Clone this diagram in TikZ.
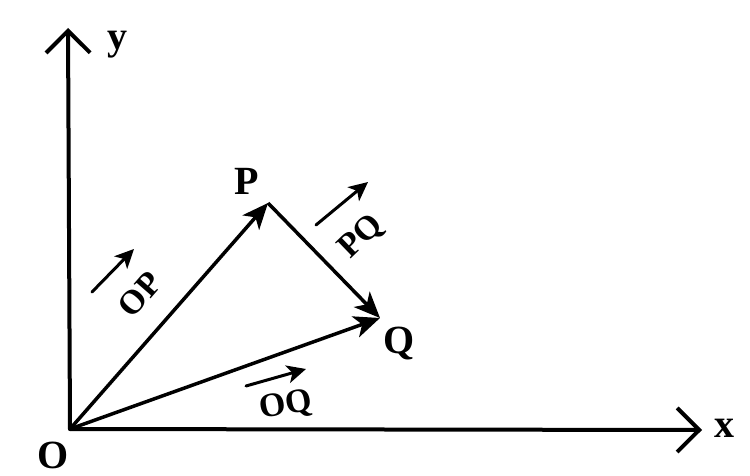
\documentclass[tikz,border=0pt]{standalone}
\usepackage{fontspec}
\setmainfont{Liberation Serif}
\usetikzlibrary{arrows.meta}
\begin{document}
\begin{tikzpicture}[x=1pt,y=-1pt,
 axis/.style={line width=4pt, line cap=round, -{Straight Barb[length=22pt,width=44pt,line width=4pt]}},
 vec/.style={line width=3.5pt, -{Stealth[length=26pt,width=22pt,inset=7pt]}},
 small/.style={line width=3pt, line cap=round, -{Stealth[length=19pt,width=18pt,inset=5pt]}},
 lbl/.style={font=\fontsize{40}{44}\selectfont\bfseries, inner sep=0pt},
 vlbl/.style={font=\fontsize{34}{38}\selectfont\bfseries, inner sep=0pt}]
\useasboundingbox (0,0) rectangle (750,476);
\coordinate (O) at (70,429);
\coordinate (P) at (268,203);
\coordinate (Q) at (380,318);
\coordinate (Y) at (68,28);
\coordinate (X) at (702,430);
\draw[axis] (O) -- (Y);
\draw[axis] (O) -- (X);
\draw[vec] (O) -- (P);
\draw[vec] (P) -- (Q);
\draw[vec] (O) -- (Q);
\node[lbl] (ly) at (117,45) {y};
\node[lbl] (lx) at (724,428) {x};
\node[lbl] (lO) at (53,455) {O};
\node[lbl] (lP) at (247,181) {P};
\node[lbl] (lQ) at (399,343) {Q};
\node[vlbl, rotate=49] (lOP) at (140,294) {OP};
\node[vlbl, rotate=44] (lPQ) at (362,237) {PQ};
\node[vlbl, rotate=10] (lOQ) at (286,406) {OQ};
\coordinate (a1) at (92,292);  \coordinate (b1) at (134,249);
\coordinate (a2) at (316,225); \coordinate (b2) at (368,182);
\coordinate (a3) at (246,386); \coordinate (b3) at (306,369);
\draw[small] (a1) -- (b1);
\draw[small] (a2) -- (b2);
\draw[small] (a3) -- (b3);
\end{tikzpicture}
\end{document}
